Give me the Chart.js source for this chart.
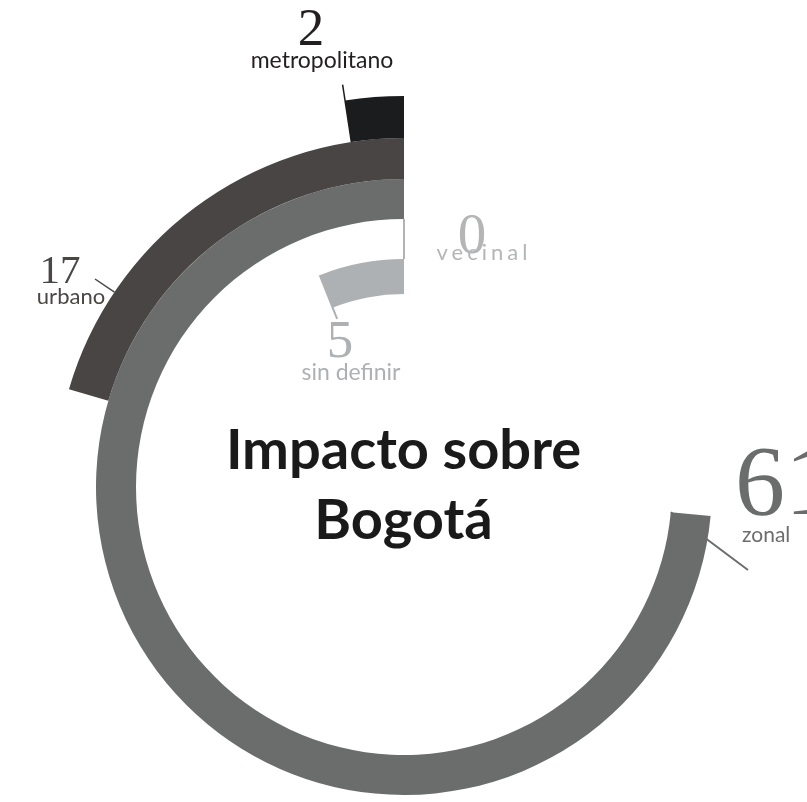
<!DOCTYPE html>
<html>
<head>
<meta charset="utf-8">
<title>Impacto sobre Bogotá</title>
<script src="https://cdn.jsdelivr.net/npm/chart.js"></script>
<style>
    html, body {
        margin: 0;
        padding: 0;
        background: #fff;
        overflow: hidden;
        width: 807px;
        height: 802px;
    }
    .wrap {
        position: absolute;
        left: 0;
        top: 0;
        width: 807px;
        height: 974px;
    }
    .lbl {
        position: absolute;
        line-height: 1;
        white-space: nowrap;
        font-family: 'Lato', sans-serif;
    }
    .num { font-family: 'Liberation Serif', serif; }
    #titulo {
        position: absolute;
        left: 0;
        top: 413px;
        width: 807px;
        text-align: center;
        font-family: 'Lato', sans-serif;
        font-weight: 700;
        font-size: 56px;
        line-height: 70px;
        color: #1a1a1a;
    }
</style>
</head>
<body>
<div class="wrap"><canvas id="anillos"></canvas></div>
<div id="titulo">Impacto sobre<br>Bogotá</div>
<div id="etiquetas"></div>

<script>
    // datos
    const categorias = ['metropolitano', 'urbano', 'zonal', 'vecinal', 'sin definir'];
    const valores = [2, 17, 61, 0, 5];
    const escalaMax = 83; // vuelta completa del anillo

    // estilo
    const colores = ['#1b1c1e', '#494545', '#6b6d6c', '#b1b3b5', '#aeb1b3'];
    const grosor = [42, 41, 40, 40, 35];

    // etiquetas: x = centro (o izquierda si left), y = top
    const posNum = {
        'metropolitano': { x: 311, y: 1, size: 53, color: '#231f20' },
        'urbano': { x: 60, y: 249, size: 41, color: '#4a4646' },
        'zonal': { x: 735, y: 431, size: 100, color: '#6b6d6c', left: true },
        'vecinal': { x: 472, y: 205, size: 57, color: '#b3b5b7' },
        'sin definir': { x: 340, y: 313, size: 53, color: '#aeb1b3' }
    };
    const posNombre = {
        'metropolitano': { x: 322, y: 48, size: 23, color: '#231f20' },
        'urbano': { x: 71, y: 285, size: 22, color: '#4a4646' },
        'zonal': { x: 742, y: 523, size: 21, color: '#6b6d6c', left: true },
        'vecinal': { x: 484, y: 241, size: 22, color: '#b3b5b7', spacing: 4 },
        'sin definir': { x: 351, y: 360, size: 23, color: '#aeb1b3' }
    };

    const cont = document.getElementById('etiquetas');
    function etiqueta(texto, p, clase) {
        const d = document.createElement('div');
        d.className = clase;
        d.textContent = texto;
        d.style.left = p.x + 'px';
        d.style.top = p.y + 'px';
        d.style.fontSize = p.size + 'px';
        d.style.color = p.color;
        if (p.spacing) d.style.letterSpacing = p.spacing + 'px';
        if (!p.left) d.style.transform = 'translateX(-50%)';
        cont.appendChild(d);
    }
    categorias.forEach((c, i) => {
        etiqueta(String(valores[i]), posNum[c], 'lbl num');
        etiqueta(c, posNombre[c], 'lbl');
    });

    // lineas guia desde el final de cada arco
    const lineasGuia = {
        id: 'lineasGuia',
        afterDatasetsDraw(chart) {
            const ctx = chart.ctx;
            ctx.save();
            categorias.forEach((c, i) => {
                const arc = chart.getDatasetMeta(i).data[1];
                const { x, y, startAngle, innerRadius, outerRadius } =
                    arc.getProps(['x', 'y', 'startAngle', 'innerRadius', 'outerRadius'], true);
                const pt = r => [x + Math.cos(startAngle) * r, y + Math.sin(startAngle) * r];
                let a, b;
                ctx.strokeStyle = colores[i];
                ctx.lineWidth = 2;
                if (c === 'metropolitano') {
                    a = pt(innerRadius); b = pt(outerRadius + 16);
                    ctx.lineWidth = 1.5;
                } else if (c === 'urbano') {
                    const p = [95, 279];
                    const d = Math.hypot(p[0] - x, p[1] - y);
                    a = p;
                    b = [x + (p[0] - x) * outerRadius / d, y + (p[1] - y) * outerRadius / d];
                    ctx.lineWidth = 1.5;
                } else if (c === 'zonal') {
                    a = pt(innerRadius); b = [748, 570];
                } else if (c === 'vecinal') {
                    a = pt(innerRadius); b = pt(outerRadius);
                } else {
                    a = pt(outerRadius); b = pt(innerRadius - 12);
                }
                ctx.beginPath();
                ctx.moveTo(a[0], a[1]);
                ctx.lineTo(b[0], b[1]);
                ctx.stroke();
            });
            ctx.restore();
        }
    };

    new Chart(document.getElementById('anillos'), {
        type: 'doughnut',
        data: {
            labels: ['resto', 'valor'],
            datasets: valores.map((v, i) => ({
                label: categorias[i],
                data: [escalaMax - v, v],
                backgroundColor: ['rgba(0,0,0,0)', colores[i]],
                borderWidth: 0,
                hoverBorderWidth: 0,
                hoverOffset: 0,
                offset: 0,
                weight: grosor[i]
            }))
        },
        options: {
            responsive: true,
            maintainAspectRatio: false,
            animation: false,
            events: [],
            cutout: 193,
            layout: { padding: { left: 13, right: 12, top: 96, bottom: 96 } },
            plugins: {
                legend: { display: false },
                tooltip: { enabled: false }
            }
        },
        plugins: [lineasGuia]
    });
</script>
</body>
</html>
